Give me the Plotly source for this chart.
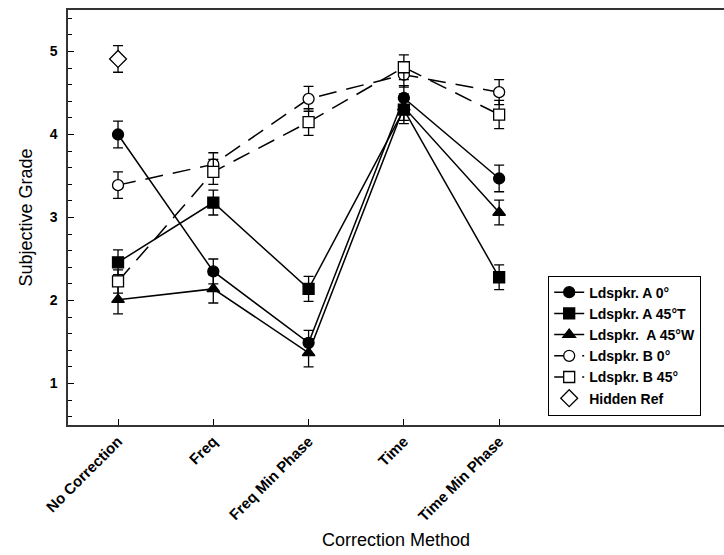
import plotly.graph_objects as go

# Correction methods on the x axis
methods = ["No Correction", "Freq", "Freq Min Phase", "Time", "Time Min Phase"]
y_ticks = [1, 2, 3, 4, 5]

# Mean subjective grades and error-bar half widths per loudspeaker condition
a0_mean = [4.00, 2.35, 1.49, 4.44, 3.47]
a0_err = [0.16, 0.15, 0.15, 0.15, 0.16]

a45t_mean = [2.46, 3.18, 2.14, 4.30, 2.28]
a45t_err = [0.15, 0.15, 0.15, 0.17, 0.15]

a45w_mean = [2.01, 2.14, 1.37, 4.33, 3.06]
a45w_err = [0.17, 0.17, 0.17, 0.16, 0.15]

b0_mean = [3.39, 3.64, 4.43, 4.72, 4.51]
b0_err = [0.16, 0.14, 0.15, 0.15, 0.15]

b45_mean = [2.23, 3.55, 4.15, 4.81, 4.24]
b45_err = [0.14, 0.15, 0.16, 0.15, 0.17]

hidden_method = ["No Correction"]
hidden_mean = [4.91]
hidden_err = [0.16]

x_pos = list(range(len(methods)))
hidden_pos = [methods.index(m) for m in hidden_method]

# name, means, errors, symbol, filled, dash
series = [
    ("Ldspkr. A 0\u00b0", a0_mean, a0_err, "circle", True, "solid"),
    ("Ldspkr. A 45\u00b0T", a45t_mean, a45t_err, "square", True, "solid"),
    ("Ldspkr.  A 45\u00b0W", a45w_mean, a45w_err, "triangle-up", True, "solid"),
    ("Ldspkr. B 0\u00b0", b0_mean, b0_err, "circle", False, "18px,10px"),
    ("Ldspkr. B 45\u00b0", b45_mean, b45_err, "square", False, "18px,10px"),
]

fig = go.Figure()
for name, mean, err, symbol, filled, dash in series:
    fig.add_trace(go.Scatter(
        x=x_pos, y=mean, name=name, mode="lines+markers",
        line=dict(color="black", width=1.5, dash=dash),
        marker=dict(symbol=symbol, size=11, color="black" if filled else "white",
                    line=dict(color="black", width=1.3)),
        error_y=dict(type="data", array=err, visible=True, color="black",
                     thickness=1.3, width=5),
    ))

fig.add_trace(go.Scatter(
    x=hidden_pos, y=hidden_mean, name="Hidden Ref", mode="markers",
    marker=dict(symbol="diamond", size=13, color="white", line=dict(color="black", width=1.3)),
    error_y=dict(type="data", array=hidden_err, visible=True, color="black",
                 thickness=1.3, width=5),
))

fig.update_layout(
    width=724, height=555,
    margin=dict(l=68, r=0, t=10, b=130),
    paper_bgcolor="white", plot_bgcolor="white",
    font=dict(family="Liberation Sans, Arial, sans-serif", color="black"),
    showlegend=True,
    legend=dict(
        x=0.732, y=0.36, xanchor="left", yanchor="top",
        bgcolor="white", bordercolor="black", borderwidth=1,
        font=dict(size=14, family="Liberation Sans, Arial, sans-serif", weight="bold"),
        tracegroupgap=0, itemwidth=30,
    ),
)

fig.update_xaxes(
    range=[-0.525, 6.36], tickmode="array", tickvals=x_pos, ticktext=methods,
    tickangle=-45, ticks="inside", ticklen=6, tickcolor="black",
    showline=True, linecolor="#333", linewidth=1.5, mirror=True,
    showgrid=False, zeroline=False,
    tickfont=dict(size=15, weight="bold"),
    title=dict(text="Correction Method", font=dict(size=18), standoff=10),
)

fig.update_yaxes(
    range=[0.5, 5.5], tickmode="array", tickvals=y_ticks,
    ticks="inside", ticklen=6, tickcolor="black",
    minor=dict(dtick=0.2, ticks="inside", ticklen=4, tickcolor="black", showgrid=False),
    showline=True, linecolor="#333", linewidth=1.5,
    showgrid=False, zeroline=False,
    ticklabelstandoff=6,
    tickfont=dict(size=14, weight="bold"),
    title=dict(text="Subjective Grade", font=dict(size=18), standoff=12),
)

fig.write_html("out.html")
